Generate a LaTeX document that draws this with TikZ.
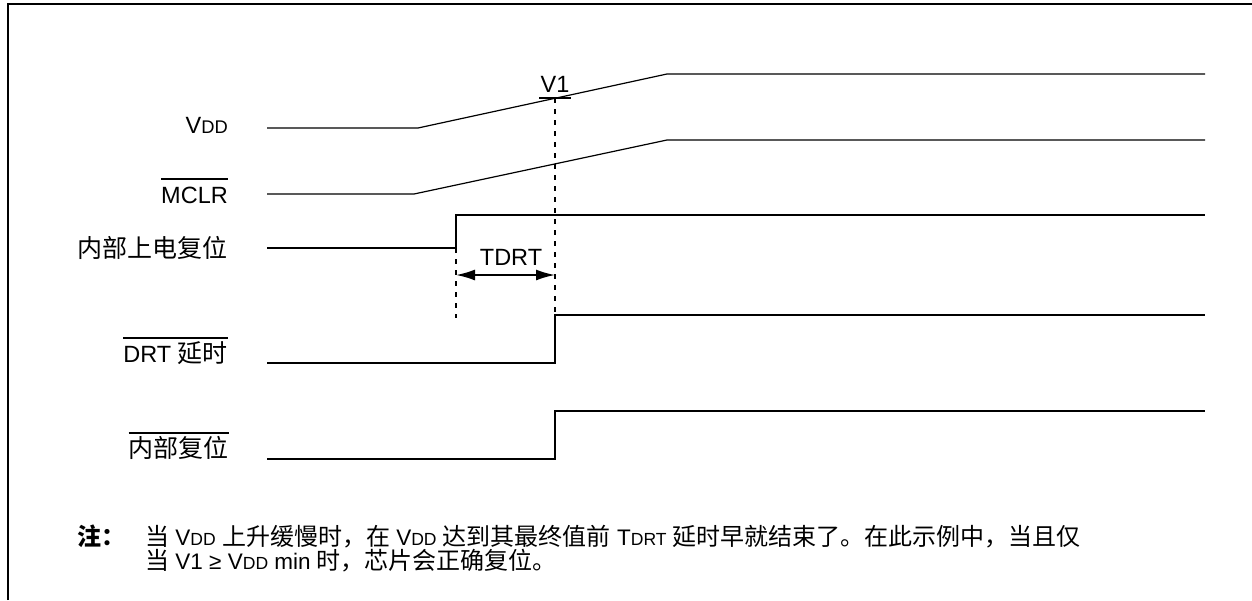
\documentclass[tikz,border=0pt]{standalone}
\usepackage{fontspec}
\setmainfont{Liberation Sans}
\newfontfamily\cjk{Noto Sans CJK SC}
\usetikzlibrary{arrows.meta,positioning}
\newcommand{\zhsize}{25}
\newcommand{\zh}[1]{{\cjk\fontsize{\zhsize}{28}\selectfont #1}}
\newcommand{\sub}[1]{\scalebox{0.78}{#1}}

\begin{document}
\begin{tikzpicture}[x=1pt,y=-1pt,font=\fontsize{23.5}{28}\selectfont,
  sig/.style={line width=2pt},
  ramp/.style={line width=1.2pt},
  guide/.style={line width=1.6pt,dash pattern=on 5pt off 6pt},
  bar/.style={line width=2pt},
  lbl/.style={anchor=base east,inner sep=0pt},
  note/.style={anchor=base west,inner sep=0pt,font=\fontsize{22.5}{28}\selectfont\def\zhsize{24}}]
  \useasboundingbox (0,0) rectangle (1252,600);
  % frame
  \draw[line width=2.5pt] (8,600) -- (8,4) -- (1252,4);
  % signal names
  \node[lbl] (vdd) at (228,133) {V\sub{DD}};
  \node[lbl] (mclr) at (228,203) {MCLR};
  \node[lbl] (por) at (228,257) {\zh{内部上电复位}};
  \node[lbl] (drt) at (228,362) {DRT \zh{延时}};
  \node[lbl] (rst) at (229,457) {\zh{内部复位}};
  \foreach \n in {mclr,drt,rst}
    \draw[bar] ([yshift=24pt]\n.base west) -- ([yshift=24pt]\n.base east);
  % supply ramps
  \draw[ramp] (267,128) -- (418,128) -- (667,74) -- (1205,74);
  \draw[ramp] (267,194) -- (414,194) -- (667,140) -- (1205,140);
  % digital signals
  \foreach \lo/\hi/\t in {248/215/456, 363/315/555, 459/411/555}
    \draw[sig] (267,\lo) -- (\t,\lo) -- (\t,\hi) -- (1205,\hi);
  % V1 mark and guides
  \coordinate (v1pt) at (555,98);
  \draw[bar] ([xshift=-16pt]v1pt) -- ([xshift=16pt]v1pt);
  \node[anchor=base,inner sep=0pt] (v1) at (555,92) {V1};
  \draw[guide] (v1pt) -- (555,315);
  \draw[guide] (456,248) -- (456,318);
  % TDRT
  \coordinate (ta) at (456,275);
  \coordinate (tb) at (555,275);
  \draw[<->,>={Latex[length=19pt,width=11pt]},line width=1.8pt] (ta) -- (tb);
  \node[anchor=base,inner sep=0pt] (tdrt) at (511,265) {TDRT};
  % note
  \node[note] (zhu) at (77,545) {\zh{\bfseries 注：}};
  \node[note] (line1) at (145,545) {\zh{当} V\sub{DD} \zh{上升缓慢时，在} V\sub{DD} \zh{达到其最终值前} T\sub{DRT} \zh{延时早就结束了。在此示例中，当且仅}};
  \node[note] (line2) at (145,569) {\zh{当} V1 ≥ V\sub{DD} min \zh{时，芯片会正确复位。}};
\end{tikzpicture}
\end{document}
